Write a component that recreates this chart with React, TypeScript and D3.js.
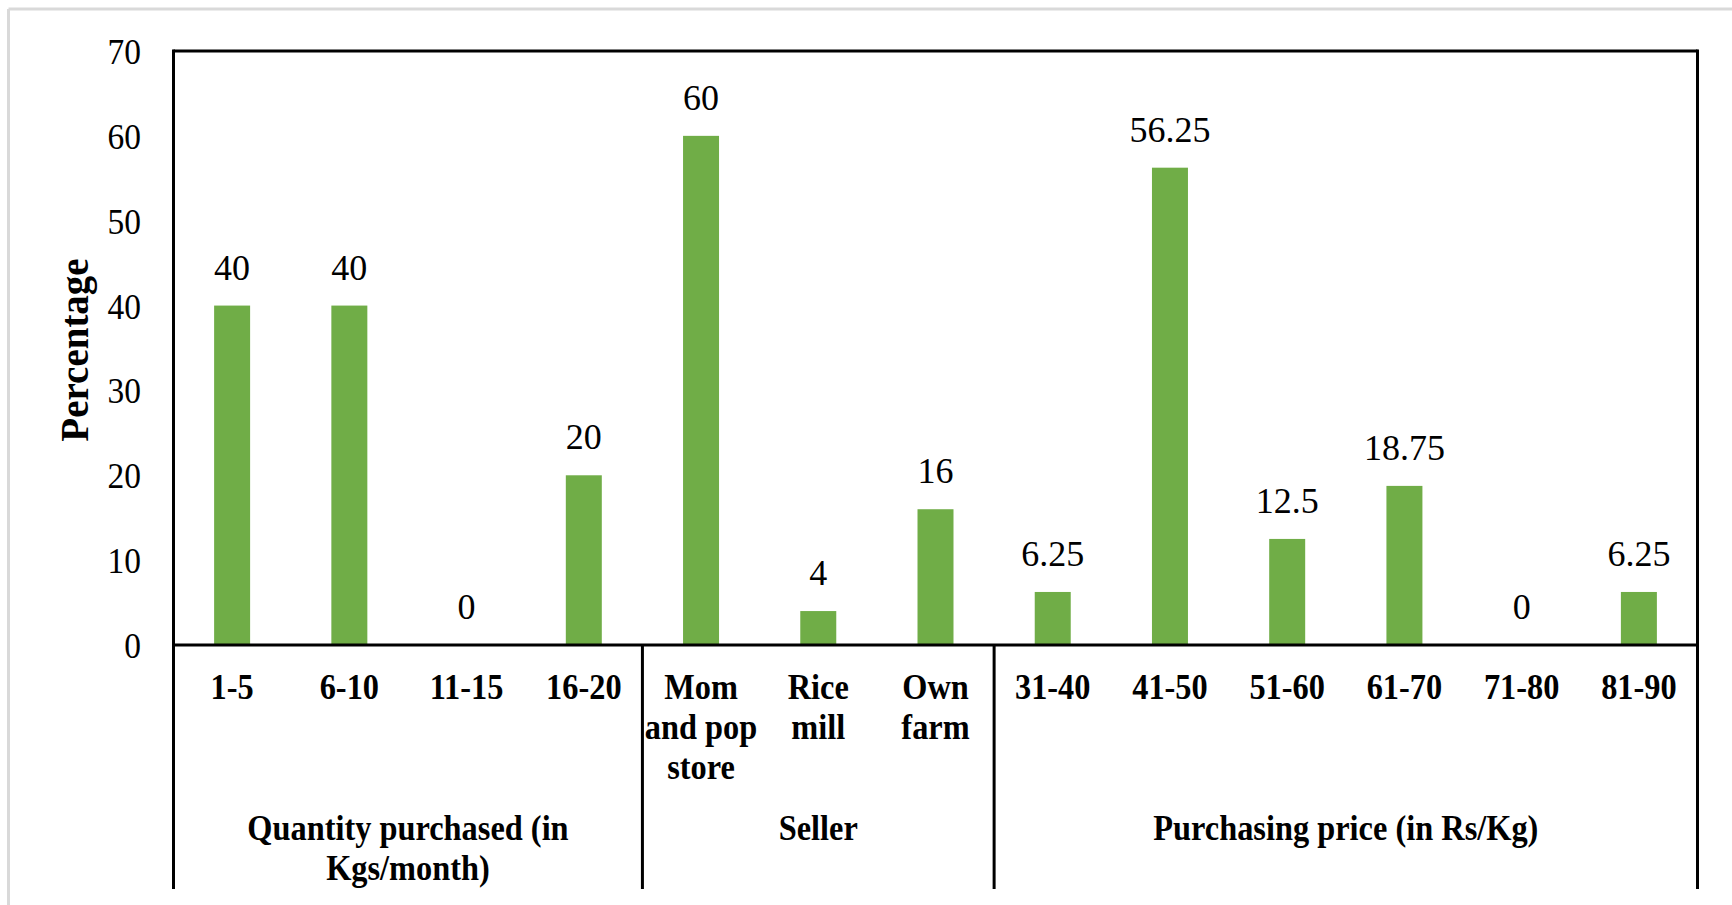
import React from "react";
import * as d3 from "d3";

const categories: string[][] = [
  ["1-5"], ["6-10"], ["11-15"], ["16-20"],
  ["Mom", "and pop", "store"], ["Rice", "mill"], ["Own", "farm"],
  ["31-40"], ["41-50"], ["51-60"], ["61-70"], ["71-80"], ["81-90"],
];
const values: number[] = [40, 40, 0, 20, 60, 4, 16, 6.25, 56.25, 12.5, 18.75, 0, 6.25];
const valueLabels: string[] = ["40", "40", "0", "20", "60", "4", "16", "6.25", "56.25", "12.5", "18.75", "0", "6.25"];
const groups: { lines: string[]; start: number; end: number }[] = [
  { lines: ["Quantity purchased (in", "Kgs/month)"], start: 0, end: 4 },
  { lines: ["Seller"], start: 4, end: 7 },
  { lines: ["Purchasing price (in Rs/Kg)"], start: 7, end: 13 },
];
const yTicks: number[] = [0, 10, 20, 30, 40, 50, 60, 70];

const W = 1732;
const H = 905;
const LEFT = 173.5;
const RIGHT = 1697.5;
const TOP = 51;
const BASE = 645;
const BOTTOM = 889;
const FONT = "'Liberation Serif', 'Times New Roman', serif";
const GREEN = "#70AD47";

export default function App() {
  const idx = categories.map((_, i) => String(i));
  const x = d3.scaleBand<string>().domain(idx).range([LEFT, RIGHT]).paddingInner(0).paddingOuter(0);
  const y = d3.scaleLinear().domain([0, 70]).range([BASE, TOP]);
  const bw = x.bandwidth() * 0.307;

  const txt = (
    key: string,
    tx: number,
    ty: number,
    s: string,
    opts: { bold?: boolean; size?: number; sx?: number; anchor?: string } = {}
  ) => (
    <text
      key={key}
      transform={`translate(${tx},${ty}) scale(${opts.sx ?? 0.93},1)`}
      textAnchor={opts.anchor ?? "middle"}
      fontFamily={FONT}
      fontWeight={opts.bold ? "bold" : "normal"}
      fontSize={opts.size ?? 36}
      fill="#000"
    >
      {s}
    </text>
  );

  return (
    <svg
      width={W}
      height={H}
      style={{ position: "absolute", left: 0, top: 0, display: "block", background: "#fff" }}
    >
      <rect x={0} y={0} width={W} height={H} fill="#fff" />
      {/* outer chart-area border */}
      <line x1={8.5} y1={9} x2={W} y2={9} stroke="#d9d9d9" strokeWidth={3} />
      <line x1={8.5} y1={9} x2={8.5} y2={H} stroke="#d9d9d9" strokeWidth={3} />

      {/* bars */}
      {values.map((v, i) => (
        <rect
          key={"b" + i}
          x={(x(String(i)) as number) + x.bandwidth() / 2 - bw / 2}
          y={y(v)}
          width={bw}
          height={Math.max(0, BASE - y(v))}
          fill={GREEN}
        />
      ))}

      {/* value labels */}
      {values.map((v, i) =>
        txt("v" + i, (x(String(i)) as number) + x.bandwidth() / 2, y(v) - 26, valueLabels[i], { size: 36, sx: 1.0 })
      )}

      {/* y tick labels */}
      {yTicks.map((t) => txt("t" + t, 141, y(t) + 13, String(t), { anchor: "end", size: 36, sx: 0.93 }))}

      {/* y title */}
      <text
        transform={`translate(88,${(TOP + BASE) / 2 + 2}) rotate(-90)`}
        textAnchor="middle"
        fontFamily={FONT}
        fontWeight="bold"
        fontSize={39}
        fill="#000"
      >
        Percentage
      </text>

      {/* frame */}
      <line x1={LEFT} y1={TOP} x2={RIGHT} y2={TOP} stroke="#000" strokeWidth={3} />
      <line x1={LEFT} y1={TOP - 1.5} x2={LEFT} y2={BOTTOM} stroke="#000" strokeWidth={3} />
      <line x1={RIGHT} y1={TOP - 1.5} x2={RIGHT} y2={BOTTOM} stroke="#000" strokeWidth={3} />
      <line x1={LEFT} y1={BASE} x2={RIGHT} y2={BASE} stroke="#000" strokeWidth={3} />

      {/* group separators */}
      {groups.slice(1).map((g, i) => {
        const gx = x(String(g.start)) as number;
        return <line key={"s" + i} x1={gx} y1={BASE} x2={gx} y2={BOTTOM} stroke="#000" strokeWidth={3} />;
      })}

      {/* category labels */}
      {categories.map((lines, i) =>
        lines.map((l, j) =>
          txt("c" + i + "-" + j, (x(String(i)) as number) + x.bandwidth() / 2, 699 + j * 40, l, { bold: true, size: 35, sx: 0.925 })
        )
      )}

      {/* group labels */}
      {groups.map((g, i) => {
        const x0 = x(String(g.start)) as number;
        const x1 = g.end >= categories.length ? RIGHT : (x(String(g.end)) as number);
        return g.lines.map((l, j) =>
          txt("g" + i + "-" + j, (x0 + x1) / 2, 840 + j * 39.5, l, { bold: true, size: 35, sx: 0.925 })
        );
      })}
    </svg>
  );
}
